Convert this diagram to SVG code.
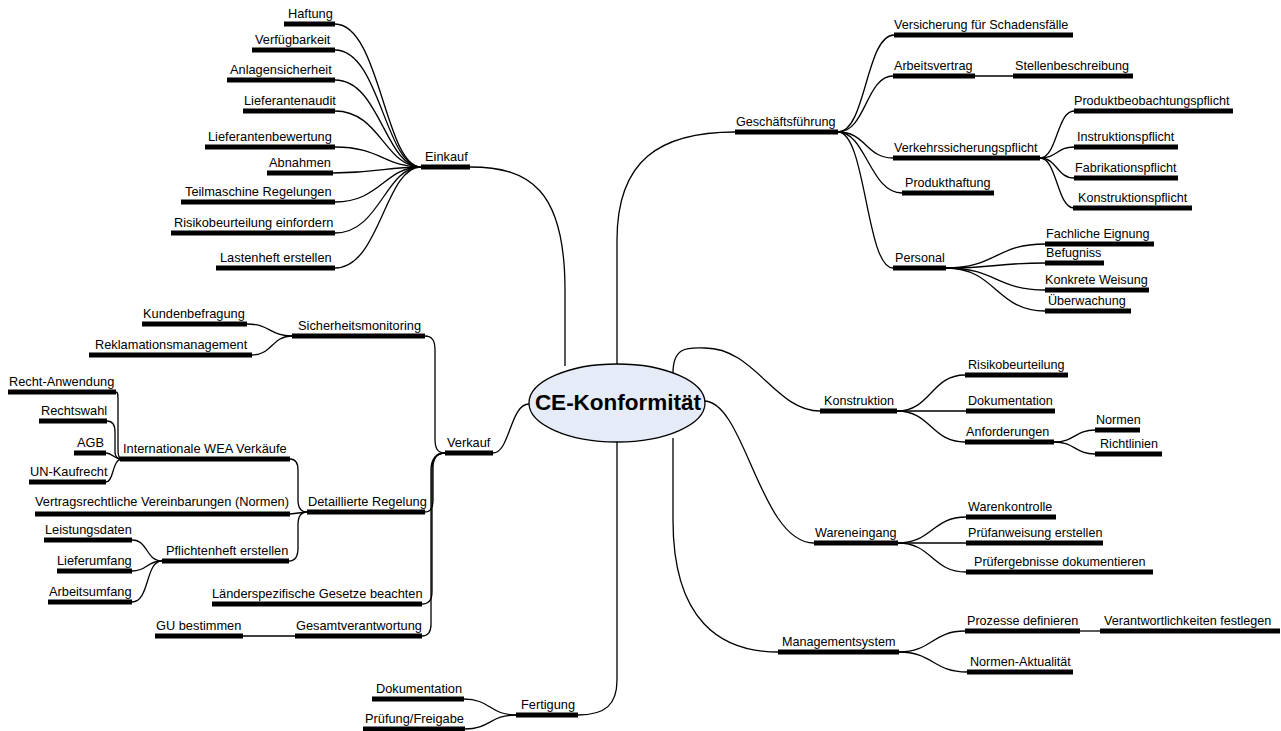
<svg xmlns="http://www.w3.org/2000/svg" width="1281" height="731" viewBox="0 0 1281 731">
<style>
.t{font-family:"Liberation Sans",Arial,sans-serif;font-size:12.8px;fill:#000}
.r{font-size:12.6px}
.bar{fill:#000}
.c{fill:none;stroke:#000;stroke-width:1.3}
</style>
<rect width="1281" height="731" fill="#fff"/>
<g id="connectors" class="c">
<path d="M470,167 C530,167 565,190 565,290 L565,366"/>
<path d="M617,364 L617,240 C617,160 660,132 735,132"/>
<path d="M673,373 C673,345 690,348 705,348 C755,348 775,411 820,411"/>
<path d="M704,401 C745,401 760,543 814,543"/>
<path d="M673,438 L673,520 C673,620 720,652 778,652"/>
<path d="M617,441 L617,680 C617,705 605,715 578,715"/>
<path d="M529,404 C510,404 510,453 493,453"/>
<path d="M335,24 C380,24 385,167 421,167"/>
<path d="M335,50 C380,50 385,167 421,167"/>
<path d="M335,80 C380,80 385,167 421,167"/>
<path d="M335,111 C380,111 385,167 421,167"/>
<path d="M335,147 C380,147 385,167 421,167"/>
<path d="M333,173 C380,173 385,167 421,167"/>
<path d="M335,202 C380,202 385,167 421,167"/>
<path d="M335,233 C380,233 385,167 421,167"/>
<path d="M335,268 C380,268 385,167 421,167"/>
<path d="M445,453 C437,453 435,448 435,438 L435,350 C435,340 432,336 425,336"/>
<path d="M445,453 C437,453 433,458 433,468 L433,500 C433,508 430,512 425,512"/>
<path d="M445,453 C437,453 432,458 432,470 L432,592 C432,600 428,604 422,604"/>
<path d="M445,453 C437,453 431,458 431,470 L431,624 C431,632 428,636 422,636"/>
<path d="M247,324 C270,324 270,336 292,336"/>
<path d="M252,355 C272,355 272,336 292,336"/>
<path d="M243,636 L295,636"/>
<path d="M290,459 C296,459 298,463 298,470 L298,500 C298,508 301,512 307,512"/>
<path d="M290,514 L307,512"/>
<path d="M289,561 C296,561 298,556 298,548 L298,525 C298,516 301,512 307,512"/>
<path d="M116,392 C118,392 118,395 118,400 L118,450 C118,456 119,459 122,459"/>
<path d="M107,421 C113,421 115,425 115,432 L115,452 C115,457 117,459 122,459"/>
<path d="M106,453 C113,453 113,459 122,459"/>
<path d="M106,482 C114,482 112,459 122,459"/>
<path d="M132,540 C148,540 146,561 162,561"/>
<path d="M132,571 C148,571 146,561 162,561"/>
<path d="M132,602 C150,602 145,561 162,561"/>
<path d="M464,699 C490,699 490,715 516,715"/>
<path d="M465,729 C490,729 490,715 516,715"/>
<path d="M838,132 C866,132 866,35 894,35"/>
<path d="M838,132 C866,132 866,76 893,76"/>
<path d="M838,132 C866,132 866,158 893,158"/>
<path d="M838,132 C866,132 870,193 902,193"/>
<path d="M838,132 C866,132 866,268 893,268"/>
<path d="M975,76 L1013,76"/>
<path d="M1040,158 C1057,158 1057,111 1074,111"/>
<path d="M1040,158 C1057,158 1057,147 1074,147"/>
<path d="M1040,158 C1057,158 1057,178 1074,178"/>
<path d="M1040,158 C1057,158 1057,208 1074,208"/>
<path d="M946,268 C996,268 996,244 1045,244"/>
<path d="M946,268 C996,268 996,263 1045,263"/>
<path d="M946,268 C996,268 996,290 1045,290"/>
<path d="M946,268 C996,268 996,311 1045,311"/>
<path d="M897,411 C931,411 931,375 965,375"/>
<path d="M897,411 L966,411"/>
<path d="M897,411 C931,411 931,442 965,442"/>
<path d="M1054,442 C1075,442 1075,430 1095,430"/>
<path d="M1054,442 C1075,442 1075,454 1095,454"/>
<path d="M898,543 C932,543 932,517 966,517"/>
<path d="M898,543 L966,543"/>
<path d="M898,543 C932,543 932,572 966,572"/>
<path d="M899,652 C932,652 932,631 965,631"/>
<path d="M899,652 C933,652 933,672 967,672"/>
<path d="M1080,631 L1100,631"/>
</g>
<g id="center">
<ellipse cx="617" cy="403" rx="88" ry="39" fill="#E5EBF7" stroke="#000" stroke-width="1.3"/>
<text x="618" y="410" text-anchor="middle" style="font-family:'Liberation Sans',Arial,sans-serif;font-size:22.5px;font-weight:bold">CE-Konformität</text>
</g>
<g id="einkauf"><rect class="bar" x="421" y="164.5" width="49" height="5"/><text class="t" x="425" y="161">Einkauf</text></g>
<g id="haftung"><rect class="bar" x="284" y="21.5" width="51" height="5"/><text class="t" x="288" y="18">Haftung</text></g>
<g id="verfuegbarkeit"><rect class="bar" x="252" y="47.5" width="83" height="5"/><text class="t" x="255" y="44">Verfügbarkeit</text></g>
<g id="anlagensicherheit"><rect class="bar" x="227" y="77.5" width="108" height="5"/><text class="t" x="230" y="74">Anlagensicherheit</text></g>
<g id="lieferantenaudit"><rect class="bar" x="243" y="108.5" width="92" height="5"/><text class="t" x="244" y="105">Lieferantenaudit</text></g>
<g id="lieferantenbewertung"><rect class="bar" x="205" y="144.5" width="130" height="5"/><text class="t" x="208" y="141">Lieferantenbewertung</text></g>
<g id="abnahmen"><rect class="bar" x="267" y="170.5" width="66" height="5"/><text class="t" x="269" y="167">Abnahmen</text></g>
<g id="teilmaschine"><rect class="bar" x="181" y="199.5" width="154" height="5"/><text class="t" x="185" y="196">Teilmaschine Regelungen</text></g>
<g id="risikoeinfordern"><rect class="bar" x="171" y="230.5" width="164" height="5"/><text class="t" x="174" y="227">Risikobeurteilung einfordern</text></g>
<g id="lastenheft"><rect class="bar" x="216" y="265.5" width="119" height="5"/><text class="t" x="220" y="262">Lastenheft erstellen</text></g>
<g id="verkauf"><rect class="bar" x="445" y="450.5" width="48" height="5"/><text class="t" x="447" y="447">Verkauf</text></g>
<g id="sicherheitsmonitoring"><rect class="bar" x="292" y="333.5" width="133" height="5"/><text class="t" x="298" y="330">Sicherheitsmonitoring</text></g>
<g id="kundenbefragung"><rect class="bar" x="142" y="321.5" width="105" height="5"/><text class="t" x="143" y="318">Kundenbefragung</text></g>
<g id="reklamation"><rect class="bar" x="89" y="352.5" width="163" height="5"/><text class="t" x="95" y="349">Reklamationsmanagement</text></g>
<g id="internationale"><rect class="bar" x="120" y="456.5" width="170" height="5"/><text class="t" x="123" y="453">Internationale WEA Verkäufe</text></g>
<g id="rechtanwendung"><rect class="bar" x="8" y="389.5" width="108" height="5"/><text class="t" x="9" y="386">Recht-Anwendung</text></g>
<g id="rechtswahl"><rect class="bar" x="39" y="418.5" width="68" height="5"/><text class="t" x="41" y="415">Rechtswahl</text></g>
<g id="agb"><rect class="bar" x="74" y="450.5" width="32" height="5"/><text class="t" x="77" y="447">AGB</text></g>
<g id="unkaufrecht"><rect class="bar" x="29" y="479.5" width="77" height="5"/><text class="t" x="30" y="476">UN-Kaufrecht</text></g>
<g id="detaillierte"><rect class="bar" x="307" y="509.5" width="118" height="5"/><text class="t" x="308" y="506">Detaillierte Regelung</text></g>
<g id="vertragsrechtliche"><rect class="bar" x="35" y="511.5" width="255" height="5"/><text class="t" x="35" y="506">Vertragsrechtliche Vereinbarungen (Normen)</text></g>
<g id="pflichtenheft"><rect class="bar" x="162" y="558.5" width="127" height="5"/><text class="t" x="166" y="555">Pflichtenheft erstellen</text></g>
<g id="leistungsdaten"><rect class="bar" x="44" y="537.5" width="88" height="5"/><text class="t" x="45" y="534">Leistungsdaten</text></g>
<g id="lieferumfang"><rect class="bar" x="57" y="568.5" width="75" height="5"/><text class="t" x="57" y="565">Lieferumfang</text></g>
<g id="arbeitsumfang"><rect class="bar" x="48" y="599.5" width="84" height="5"/><text class="t" x="49" y="596">Arbeitsumfang</text></g>
<g id="laenderspezifische"><rect class="bar" x="212" y="601.5" width="210" height="5"/><text class="t" x="212" y="598">Länderspezifische Gesetze beachten</text></g>
<g id="gesamtverantwortung"><rect class="bar" x="295" y="633.5" width="127" height="5"/><text class="t" x="296" y="630">Gesamtverantwortung</text></g>
<g id="gubestimmen"><rect class="bar" x="155" y="633.5" width="88" height="5"/><text class="t" x="156" y="630">GU bestimmen</text></g>
<g id="fertigung"><rect class="bar" x="516" y="712.5" width="62" height="5"/><text class="t" x="521" y="709">Fertigung</text></g>
<g id="fdokumentation"><rect class="bar" x="372" y="696.5" width="92" height="5"/><text class="t" x="376" y="693">Dokumentation</text></g>
<g id="pruefungfreigabe"><rect class="bar" x="363" y="726.5" width="102" height="5"/><text class="t" x="365" y="723">Prüfung/Freigabe</text></g>
<g id="geschaeftsfuehrung"><rect class="bar" x="735" y="129.5" width="103" height="5"/><text class="t r" x="736" y="126">Geschäftsführung</text></g>
<g id="versicherung"><rect class="bar" x="894" y="32.5" width="179" height="5"/><text class="t r" x="894" y="29">Versicherung für Schadensfälle</text></g>
<g id="arbeitsvertrag"><rect class="bar" x="893" y="73.5" width="82" height="5"/><text class="t r" x="894" y="70">Arbeitsvertrag</text></g>
<g id="stellenbeschreibung"><rect class="bar" x="1013" y="73.5" width="120" height="5"/><text class="t r" x="1015" y="70">Stellenbeschreibung</text></g>
<g id="verkehrssicherungspflicht"><rect class="bar" x="893" y="155.5" width="147" height="5"/><text class="t r" x="894" y="152">Verkehrssicherungspflicht</text></g>
<g id="produkthaftung"><rect class="bar" x="902" y="190.5" width="92" height="5"/><text class="t r" x="905" y="187">Produkthaftung</text></g>
<g id="personal"><rect class="bar" x="893" y="265.5" width="53" height="5"/><text class="t r" x="895" y="262">Personal</text></g>
<g id="produktbeobachtungspflicht"><rect class="bar" x="1074" y="108.5" width="159" height="5"/><text class="t r" x="1074" y="105">Produktbeobachtungspflicht</text></g>
<g id="instruktionspflicht"><rect class="bar" x="1074" y="144.5" width="104" height="5"/><text class="t r" x="1077" y="141">Instruktionspflicht</text></g>
<g id="fabrikationspflicht"><rect class="bar" x="1074" y="175.5" width="104" height="5"/><text class="t r" x="1075" y="172">Fabrikationspflicht</text></g>
<g id="konstruktionspflicht"><rect class="bar" x="1073" y="205.5" width="119" height="5"/><text class="t r" x="1078" y="202">Konstruktionspflicht</text></g>
<g id="fachlicheeignung"><rect class="bar" x="1045" y="241.5" width="109" height="5"/><text class="t r" x="1046" y="238">Fachliche Eignung</text></g>
<g id="befugniss"><rect class="bar" x="1045" y="260.5" width="59" height="5"/><text class="t r" x="1046" y="257">Befugniss</text></g>
<g id="konkreteweisung"><rect class="bar" x="1045" y="287.5" width="104" height="5"/><text class="t r" x="1045" y="284">Konkrete Weisung</text></g>
<g id="ueberwachung"><rect class="bar" x="1045" y="308.5" width="86" height="5"/><text class="t r" x="1048" y="305">Überwachung</text></g>
<g id="konstruktion"><rect class="bar" x="820" y="408.5" width="77" height="5"/><text class="t r" x="824" y="405">Konstruktion</text></g>
<g id="risikobeurteilung"><rect class="bar" x="965" y="372.5" width="103" height="5"/><text class="t r" x="968" y="369">Risikobeurteilung</text></g>
<g id="kdokumentation"><rect class="bar" x="966" y="408.5" width="89" height="5"/><text class="t r" x="968" y="405">Dokumentation</text></g>
<g id="anforderungen"><rect class="bar" x="965" y="439.5" width="89" height="5"/><text class="t r" x="966" y="436">Anforderungen</text></g>
<g id="normen"><rect class="bar" x="1095" y="427.5" width="45" height="5"/><text class="t r" x="1096" y="424">Normen</text></g>
<g id="richtlinien"><rect class="bar" x="1095" y="451.5" width="67" height="5"/><text class="t r" x="1100" y="448">Richtlinien</text></g>
<g id="wareneingang"><rect class="bar" x="814" y="540.5" width="84" height="5"/><text class="t r" x="815" y="537">Wareneingang</text></g>
<g id="warenkontrolle"><rect class="bar" x="966" y="514.5" width="90" height="5"/><text class="t r" x="968" y="511">Warenkontrolle</text></g>
<g id="pruefanweisung"><rect class="bar" x="966" y="540.5" width="137" height="5"/><text class="t r" x="968" y="537">Prüfanweisung erstellen</text></g>
<g id="pruefergebnisse"><rect class="bar" x="966" y="569.5" width="187" height="5"/><text class="t r" x="974" y="566">Prüfergebnisse dokumentieren</text></g>
<g id="managementsystem"><rect class="bar" x="778" y="649.5" width="121" height="5"/><text class="t r" x="782" y="646">Managementsystem</text></g>
<g id="prozesse"><rect class="bar" x="965" y="628.5" width="115" height="5"/><text class="t r" x="967" y="625">Prozesse definieren</text></g>
<g id="verantwortlichkeiten"><rect class="bar" x="1100" y="628.5" width="180" height="5"/><text class="t r" x="1104" y="625">Verantwortlichkeiten festlegen</text></g>
<g id="normenaktualitaet"><rect class="bar" x="967" y="669.5" width="106" height="5"/><text class="t r" x="970" y="666">Normen-Aktualität</text></g>
</svg>
